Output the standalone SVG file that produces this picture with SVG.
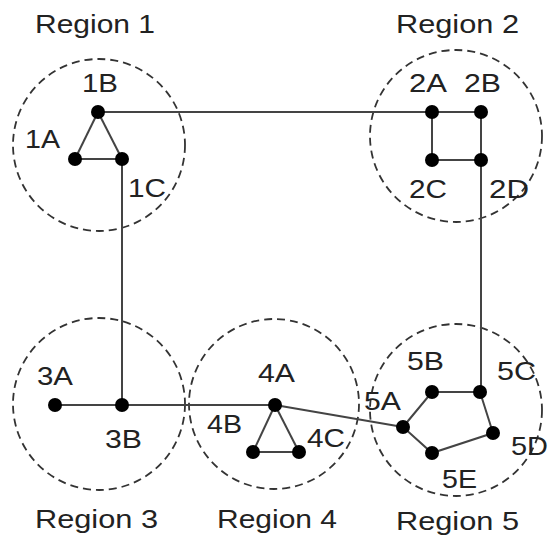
<svg xmlns="http://www.w3.org/2000/svg" width="548" height="539" viewBox="0 0 548 539">
<style>
.region{fill:none;stroke:#333;stroke-width:1.8;stroke-dasharray:8 5}
.edge{stroke:#444;stroke-width:2;fill:none}
.node{fill:#000}
text{font-family:"Liberation Sans",Arial,sans-serif;font-size:25px;fill:#222}
</style>
<rect width="548" height="539" fill="#fff"/>
<g id="regions">
<g id="region1"><circle class="region" cx="99" cy="145" r="86"/><text x="35" y="33" textLength="120" lengthAdjust="spacingAndGlyphs">Region 1</text></g>
<g id="region2"><circle class="region" cx="456" cy="136" r="86"/><text x="396" y="33" textLength="123" lengthAdjust="spacingAndGlyphs">Region 2</text></g>
<g id="region3"><circle class="region" cx="99" cy="404" r="86"/><text x="35" y="528" textLength="123" lengthAdjust="spacingAndGlyphs">Region 3</text></g>
<g id="region4"><circle class="region" cx="274" cy="404" r="85"/><text x="217" y="528" textLength="120" lengthAdjust="spacingAndGlyphs">Region 4</text></g>
<g id="region5"><circle class="region" cx="456" cy="410" r="86"/><text x="396" y="530" textLength="123" lengthAdjust="spacingAndGlyphs">Region 5</text></g>
</g>
<g id="connectors">
<polyline class="edge" points="98,112 481,112 481,392"/>
<line class="edge" x1="98" y1="112" x2="75" y2="159"/>
<line class="edge" x1="98" y1="112" x2="122" y2="159"/>
<line class="edge" x1="75" y1="159" x2="122" y2="159"/>
<line class="edge" x1="122" y1="159" x2="122" y2="405"/>
<polyline class="edge" points="432,112 432,160 481,160"/>
<line class="edge" x1="55" y1="405" x2="275" y2="405"/>
<line class="edge" x1="275" y1="405" x2="253" y2="452"/>
<line class="edge" x1="275" y1="405" x2="299" y2="452"/>
<line class="edge" x1="253" y1="452" x2="299" y2="452"/>
<line class="edge" x1="275" y1="405" x2="403" y2="427"/>
<polygon class="edge" points="403,427 432,392 480,392 493,433 432,453"/>
</g>
<g id="n1A"><circle class="node" cx="75" cy="159" r="7"/><text x="25" y="148" textLength="35" lengthAdjust="spacingAndGlyphs">1A</text></g>
<g id="n1B"><circle class="node" cx="98" cy="112" r="7"/><text x="82" y="92" textLength="36" lengthAdjust="spacingAndGlyphs">1B</text></g>
<g id="n1C"><circle class="node" cx="122" cy="159" r="7"/><text x="128" y="197" textLength="38" lengthAdjust="spacingAndGlyphs">1C</text></g>
<g id="n2A"><circle class="node" cx="432" cy="112" r="7"/><text x="409" y="92" textLength="38" lengthAdjust="spacingAndGlyphs">2A</text></g>
<g id="n2B"><circle class="node" cx="481" cy="112" r="7"/><text x="464" y="92" textLength="37" lengthAdjust="spacingAndGlyphs">2B</text></g>
<g id="n2C"><circle class="node" cx="432" cy="160" r="7"/><text x="409" y="198" textLength="38" lengthAdjust="spacingAndGlyphs">2C</text></g>
<g id="n2D"><circle class="node" cx="481" cy="160" r="7"/><text x="489" y="198" textLength="40" lengthAdjust="spacingAndGlyphs">2D</text></g>
<g id="n3A"><circle class="node" cx="55" cy="405" r="7"/><text x="37" y="385" textLength="36" lengthAdjust="spacingAndGlyphs">3A</text></g>
<g id="n3B"><circle class="node" cx="122" cy="405" r="7"/><text x="105" y="448" textLength="37" lengthAdjust="spacingAndGlyphs">3B</text></g>
<g id="n4A"><circle class="node" cx="275" cy="405" r="7"/><text x="258" y="382" textLength="37" lengthAdjust="spacingAndGlyphs">4A</text></g>
<g id="n4B"><circle class="node" cx="253" cy="452" r="7"/><text x="207" y="433" textLength="35" lengthAdjust="spacingAndGlyphs">4B</text></g>
<g id="n4C"><circle class="node" cx="299" cy="452" r="7"/><text x="307" y="447" textLength="38" lengthAdjust="spacingAndGlyphs">4C</text></g>
<g id="n5A"><circle class="node" cx="403" cy="427" r="7"/><text x="364" y="410" textLength="37" lengthAdjust="spacingAndGlyphs">5A</text></g>
<g id="n5B"><circle class="node" cx="432" cy="392" r="7"/><text x="407" y="370" textLength="37" lengthAdjust="spacingAndGlyphs">5B</text></g>
<g id="n5C"><circle class="node" cx="480" cy="392" r="7"/><text x="497" y="380" textLength="39" lengthAdjust="spacingAndGlyphs">5C</text></g>
<g id="n5D"><circle class="node" cx="493" cy="433" r="7"/><text x="511" y="455" textLength="37" lengthAdjust="spacingAndGlyphs">5D</text></g>
<g id="n5E"><circle class="node" cx="432" cy="453" r="7"/><text x="442" y="488" textLength="35" lengthAdjust="spacingAndGlyphs">5E</text></g>
</svg>
